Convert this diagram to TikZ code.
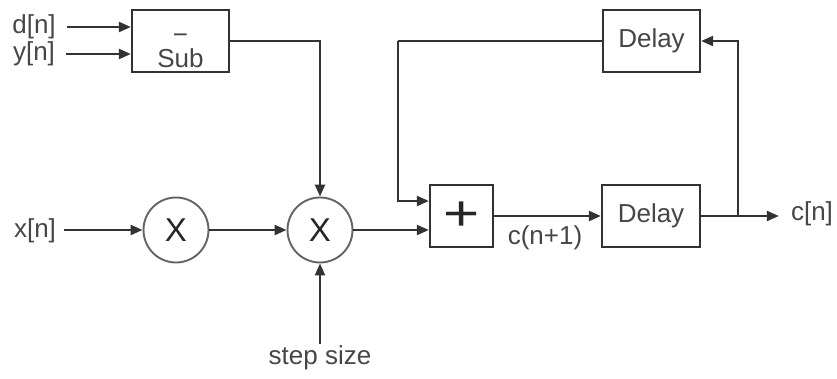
\documentclass[tikz,border=0pt]{standalone}
\usepackage{fontspec}
\setmainfont{Liberation Sans}
\usetikzlibrary{arrows.meta}
\definecolor{ink}{RGB}{50,50,50}
\definecolor{txt}{RGB}{70,70,70}
\definecolor{ring}{RGB}{100,100,100}
\tikzset{
  lbl/.style={font=\fontsize{26}{30}\selectfont, text=txt, inner sep=2pt},
  blk/.style={draw=ink, line width=2.3pt, fill=white, font=\fontsize{26}{30}\selectfont, text=txt, inner sep=0pt},
  mult/.style={circle, draw=ring, line width=1.9pt, minimum size=65pt, inner sep=0pt, font=\fontsize{33}{36}\selectfont, text=black!85},
  arr/.style={draw=ink, line width=2.3pt, -{Triangle[length=12pt,width=10pt]}},
  wire/.style={draw=ink, line width=2.3pt}
}
\begin{document}
\begin{tikzpicture}[x=1pt,y=-1pt]
\useasboundingbox (0,0) rectangle (837,379);
% blocks
\node[blk, minimum width=97pt, minimum height=62pt] (sub) at (180.5,41)
  {\raisebox{-27pt}[0pt][0pt]{\begin{tabular}[b]{@{}c@{}}\fontsize{26}{30}\selectfont −\\[-6pt]\fontsize{26}{30}\selectfont Sub\end{tabular}}};
\node[blk, minimum width=97pt, minimum height=62pt] (dly1) at (651.5,41) {Delay};
\node[blk, minimum width=98pt, minimum height=62pt] (dly2) at (651,216) {Delay};
\node[blk, minimum width=63pt, minimum height=62pt, text=black!85] (add) at (461.5,216) {\fontsize{62}{62}\selectfont\scalebox{1}[0.8]{+}};
\node[mult] (m1) at (176,230) {X};
\node[mult] (m2) at (320,230) {X};
% labels
\node[lbl] (dn) at (34,27) {d[n]};
\node[lbl] (yn) at (34,54) {y[n]};
\node[lbl] (xn) at (35,231) {x[n]};
\node[lbl] (cn) at (812,214) {c[n]};
\node[lbl] (cn1) at (545,238) {c(n+1)};
\node[lbl] (step) at (320,358) {step size};
\coordinate (fbc) at (398,41);
\coordinate (br) at (738,216);
% connectors
\draw[arr] ([xshift=9pt]dn.east) -- (sub.west |- dn.east);
\draw[arr] ([xshift=9pt]yn.east) -- (sub.west |- yn.east);
\draw[arr] (sub.east) -| (m2.north);
\draw[arr] ([xshift=6pt]xn.east |- m1.west) -- (m1.west);
\draw[arr] (m1.east) -- (m2.west);
\draw[arr] (step.north) -- (m2.south);
\draw[arr] (m2.east) -- (add.west |- m2.east);
\draw[wire] (dly1.west) -- (fbc);
\draw[arr] (fbc) |- ([yshift=15pt]add.west);
\draw[arr] (add.east) -- (dly2.west);
\draw[arr] (dly2.east) -- ([xshift=-10pt]cn.west |- dly2.east);
\draw[arr] (br) |- (dly1.east);
\end{tikzpicture}
\end{document}
